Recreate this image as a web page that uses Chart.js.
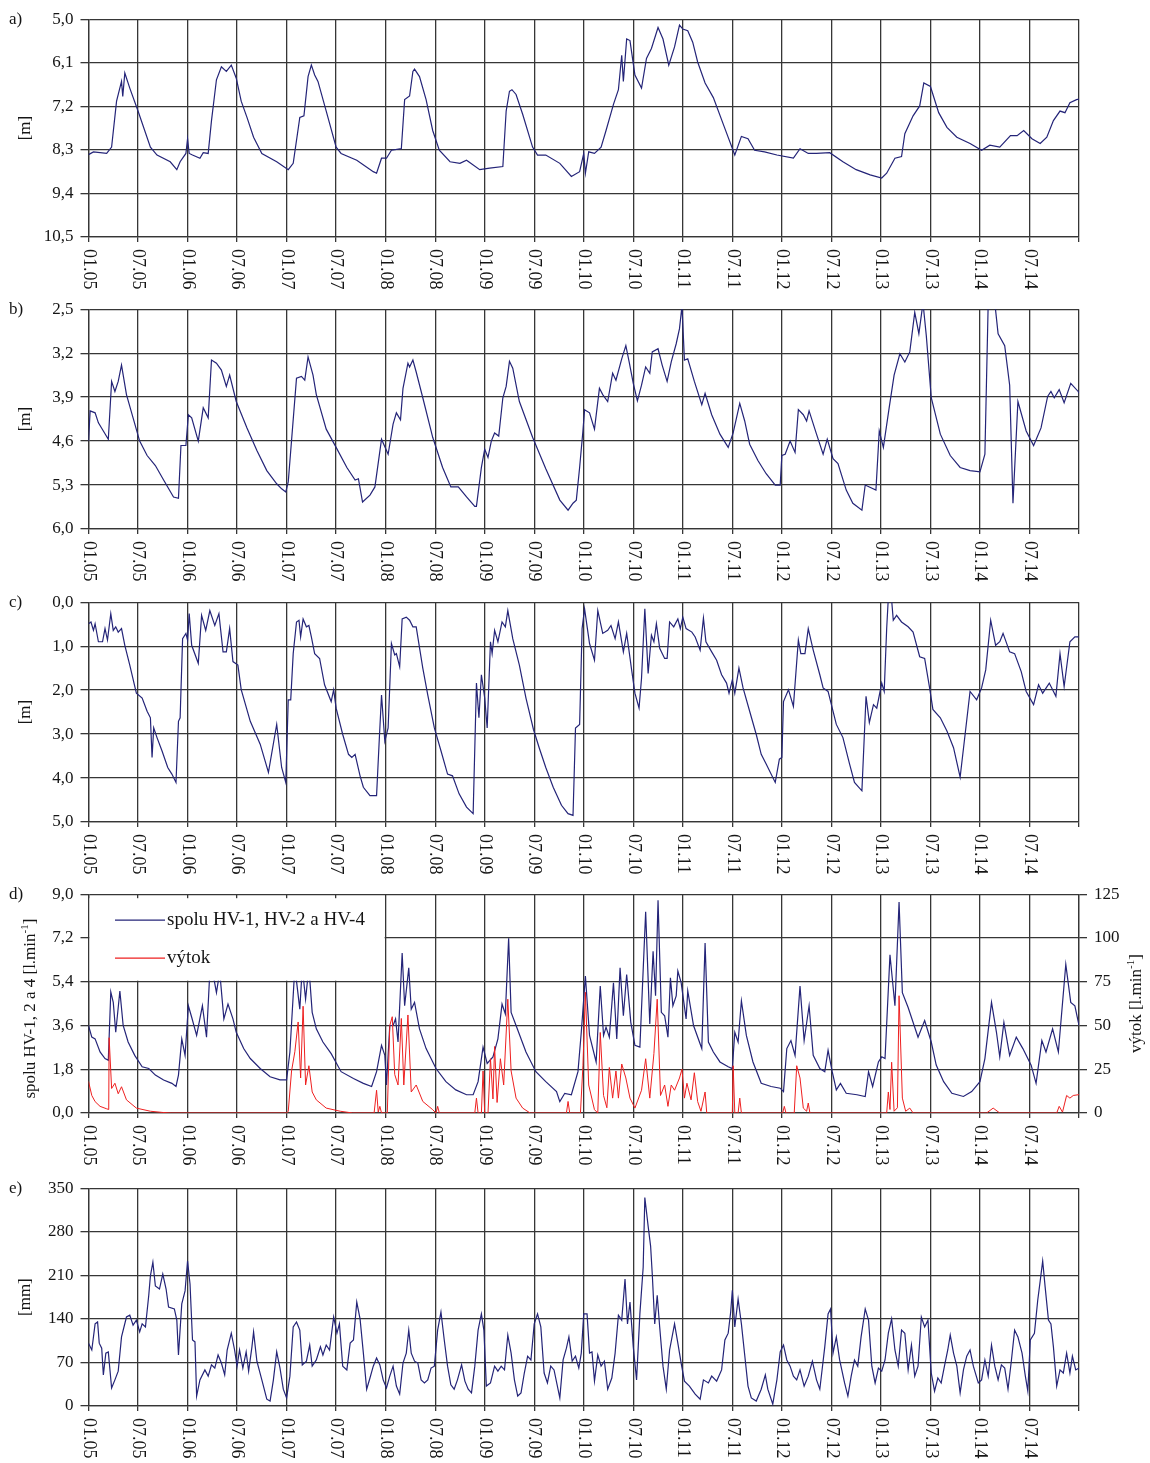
<!DOCTYPE html>
<html>
<head>
<meta charset="utf-8">
<script src="https://cdn.jsdelivr.net/npm/chart.js@4.4.1/dist/chart.umd.min.js"></script>
<style>
  html, body { margin: 0; padding: 0; background: #fff; }
  #wrap { position: relative; width: 1150px; height: 1463px; overflow: hidden; }
  #wrap canvas { position: absolute; left: 0; }
</style>
</head>
<body>
<div id="wrap"></div>
<script>
// x = months since January 2005
const halfYearLabels = ['01.05', '07.05', '01.06', '07.06', '01.07', '07.07', '01.08', '07.08', '01.09', '07.09',
                        '01.10', '07.10', '01.11', '07.11', '01.12', '07.12', '01.13', '07.13', '01.14', '07.14'];

const levelTicksA = [5.0, 6.1, 7.2, 8.3, 9.4, 10.5];
const levelTicksB = [2.5, 3.2, 3.9, 4.6, 5.3, 6.0];
const levelTicksC = [0, 1, 2, 3, 4, 5];
const yieldTicks = [0, 1.8, 3.6, 5.4, 7.2, 9.0];
const outflowTicks = [0, 25, 50, 75, 100, 125];
const precipTicks = [0, 70, 140, 210, 280, 350];

const seriesNames = ['spolu HV-1, HV-2 a HV-4', 'výtok'];

// panel a - hladina [m]
const levelA = [[0,8.42],[0.6,8.35],[2.2,8.39],[2.8,8.23],[3.4,7.07],[4.0,6.57],[4.15,6.95],[4.4,6.36],[5.0,6.74],[6.0,7.32],[7.5,8.23],[8.3,8.43],[9.9,8.6],[10.7,8.8],[11.1,8.6],[11.8,8.39],[12.0,8.02],[12.2,8.39],[12.6,8.43],[13.5,8.51],[13.9,8.37],[14.5,8.39],[14.9,7.56],[15.5,6.53],[16.1,6.2],[16.7,6.32],[17.3,6.16],[17.9,6.49],[18.5,7.07],[19.2,7.48],[20.0,7.98],[21.0,8.39],[22.8,8.6],[24.2,8.8],[24.8,8.64],[25.6,7.48],[26.1,7.44],[26.6,6.45],[27.0,6.16],[27.4,6.41],[27.8,6.57],[28.8,7.32],[30.0,8.23],[30.6,8.39],[32.5,8.56],[34.5,8.85],[34.9,8.89],[35.5,8.51],[36.1,8.51],[36.7,8.31],[37.9,8.27],[38.3,7.03],[38.9,6.94],[39.3,6.32],[39.5,6.26],[40.1,6.45],[40.9,7.03],[41.7,7.81],[42.5,8.31],[43.8,8.6],[45.0,8.64],[45.8,8.56],[47.4,8.8],[48.6,8.76],[50.2,8.72],[50.6,7.32],[51.0,6.82],[51.3,6.78],[51.8,6.9],[52.6,7.4],[53.8,8.23],[54.4,8.43],[55.4,8.43],[57.1,8.64],[58.5,8.97],[59.5,8.85],[60.0,8.39],[60.2,8.89],[60.6,8.35],[61.3,8.39],[62.1,8.23],[62.7,7.81],[63.6,7.15],[64.2,6.78],[64.6,5.91],[64.8,6.57],[65.2,5.5],[65.6,5.54],[66.2,6.41],[67.0,6.74],[67.6,5.99],[68.2,5.74],[69.0,5.21],[69.6,5.5],[70.3,6.16],[71.0,5.7],[71.6,5.15],[72.0,5.25],[72.6,5.29],[73.2,5.58],[73.8,6.08],[74.7,6.61],[75.7,6.98],[76.9,7.65],[78.3,8.43],[79.1,7.96],[79.9,8.02],[80.7,8.31],[81.9,8.35],[83.4,8.43],[85.4,8.51],[86.2,8.27],[87.2,8.39],[88.2,8.39],[89.8,8.37],[91.4,8.6],[93.0,8.8],[94.7,8.93],[96.1,9.01],[96.7,8.89],[97.7,8.51],[98.5,8.47],[98.9,7.89],[99.9,7.44],[100.7,7.19],[101.2,6.61],[102.0,6.7],[103.0,7.36],[104.0,7.73],[105.2,7.98],[106.8,8.14],[108.2,8.31],[109.2,8.18],[110.4,8.23],[111.7,7.94],[112.5,7.94],[113.3,7.81],[114.3,8.02],[115.3,8.14],[116.1,7.98],[116.9,7.56],[117.7,7.32],[118.3,7.36],[118.9,7.11],[119.7,7.03],[120,7.02]];

// panel b - hladina [m]
const levelB = [[0,4.6],[0.2,4.12],[0.8,4.15],[1.2,4.31],[1.8,4.44],[2.4,4.57],[2.8,3.65],[3.2,3.81],[3.6,3.65],[4.0,3.39],[4.6,3.86],[5.4,4.23],[6.2,4.6],[7.1,4.83],[8.1,4.99],[9.1,5.22],[10.3,5.49],[10.9,5.51],[11.2,4.67],[11.8,4.67],[12.1,4.18],[12.5,4.23],[13.3,4.6],[13.9,4.07],[14.5,4.23],[14.9,3.31],[15.5,3.36],[16.1,3.47],[16.7,3.73],[17.1,3.55],[17.9,3.97],[19.2,4.39],[20.4,4.75],[21.6,5.07],[22.8,5.28],[23.4,5.36],[23.9,5.41],[24.2,5.25],[25.2,3.6],[25.8,3.57],[26.2,3.63],[26.6,3.26],[27.2,3.55],[27.6,3.86],[28.8,4.41],[30.0,4.7],[31.3,5.02],[32.3,5.22],[32.7,5.2],[33.2,5.57],[34.1,5.46],[34.7,5.33],[35.5,4.57],[36.3,4.81],[36.9,4.33],[37.3,4.15],[37.8,4.26],[38.1,3.76],[38.7,3.36],[38.9,3.42],[39.3,3.31],[39.7,3.5],[40.5,3.91],[41.7,4.54],[42.9,5.02],[43.9,5.33],[44.8,5.33],[45.8,5.49],[46.8,5.64],[47.0,5.64],[47.6,5.02],[48.0,4.73],[48.4,4.86],[48.8,4.6],[49.2,4.47],[49.7,4.52],[50.2,3.91],[50.6,3.73],[51.0,3.33],[51.4,3.44],[52.2,3.97],[53.8,4.54],[55.4,5.04],[57.1,5.54],[58.1,5.7],[58.7,5.59],[59.1,5.54],[59.5,5.02],[59.9,4.44],[60.1,4.1],[60.7,4.15],[61.3,4.41],[61.9,3.76],[62.3,3.86],[62.9,3.97],[63.5,3.52],[63.9,3.63],[64.6,3.29],[65.1,3.08],[65.5,3.34],[66.0,3.68],[66.5,3.96],[67.0,3.71],[67.5,3.42],[68.0,3.52],[68.3,3.18],[69.0,3.13],[69.5,3.39],[70.1,3.65],[70.6,3.34],[71.2,3.05],[71.6,2.81],[71.9,2.45],[72.2,3.31],[72.6,3.29],[73.4,3.65],[74.3,4.02],[74.7,3.84],[75.5,4.18],[76.5,4.49],[77.5,4.7],[78.1,4.47],[78.9,4.0],[79.5,4.28],[80.1,4.65],[81.1,4.91],[82.1,5.12],[83.2,5.3],[83.8,5.3],[84.0,4.83],[84.4,4.81],[85.0,4.6],[85.6,4.78],[86.0,4.1],[86.6,4.18],[87.0,4.28],[87.3,4.12],[88.2,4.49],[89.0,4.81],[89.5,4.57],[90.2,4.88],[90.8,4.96],[91.8,5.38],[92.6,5.59],[93.7,5.7],[94.1,5.3],[94.6,5.33],[95.4,5.38],[95.8,4.44],[96.3,4.7],[97.0,4.07],[97.6,3.55],[98.3,3.21],[98.9,3.34],[99.5,3.18],[100.1,2.55],[100.6,2.89],[101.1,2.4],[101.5,2.92],[102.1,3.91],[103.2,4.49],[104.4,4.83],[105.6,5.02],[106.8,5.07],[108.0,5.09],[108.6,4.81],[109.0,2.4],[109.4,2.2],[109.8,2.4],[110.2,2.89],[111.0,3.08],[111.6,3.71],[112.0,5.59],[112.6,3.97],[113.6,4.44],[114.5,4.67],[115.4,4.39],[116.2,3.89],[116.6,3.81],[117.0,3.91],[117.6,3.78],[118.2,3.99],[119.0,3.68],[119.9,3.81],[120,3.84]];

// panel c - hladina [m]
const levelC = [[0,0.49],[0.3,0.45],[0.6,0.64],[0.8,0.49],[1.2,0.9],[1.7,0.9],[2.0,0.6],[2.3,0.86],[2.7,0.26],[3.0,0.64],[3.3,0.56],[3.6,0.68],[4.0,0.6],[4.4,0.98],[5.0,1.43],[5.8,2.07],[6.5,2.18],[7.1,2.48],[7.5,2.63],[7.7,3.53],[7.9,2.86],[8.3,3.08],[8.9,3.38],[9.6,3.76],[10.1,3.91],[10.6,4.1],[10.9,2.71],[11.1,2.63],[11.4,0.83],[11.8,0.71],[12.0,0.86],[12.2,0.26],[12.5,0.98],[13.3,1.39],[13.7,0.3],[14.2,0.64],[14.7,0.19],[15.3,0.53],[15.8,0.26],[16.3,1.13],[16.7,1.13],[17.1,0.6],[17.5,1.35],[18.1,1.43],[18.5,1.99],[19.6,2.71],[20.8,3.23],[21.8,3.87],[22.8,2.78],[23.4,3.76],[23.9,4.1],[24.2,2.22],[24.5,2.22],[24.8,1.17],[25.2,0.45],[25.5,0.41],[25.7,0.79],[26.0,0.38],[26.4,0.56],[26.7,0.53],[27.0,0.79],[27.4,1.17],[28.0,1.28],[28.6,1.88],[29.4,2.26],[29.7,1.99],[30.0,2.41],[30.8,3.01],[31.5,3.46],[31.9,3.53],[32.3,3.46],[32.9,3.95],[33.3,4.21],[34.1,4.4],[34.9,4.4],[35.2,3.23],[35.5,2.11],[35.9,3.16],[36.3,2.86],[36.7,0.94],[37.1,1.2],[37.3,1.17],[37.7,1.47],[38.0,0.38],[38.5,0.34],[38.9,0.41],[39.3,0.56],[39.7,0.56],[40.5,1.5],[41.1,2.11],[41.9,2.86],[42.7,3.38],[43.5,3.91],[44.1,3.95],[44.9,4.36],[45.8,4.66],[46.6,4.81],[47.0,1.84],[47.3,2.63],[47.6,1.65],[48.0,2.18],[48.3,2.86],[48.7,0.9],[48.9,1.17],[49.2,0.64],[49.6,0.9],[50.1,0.45],[50.5,0.56],[50.8,0.19],[51.4,0.83],[52.2,1.43],[53.0,2.18],[53.9,2.89],[54.6,3.31],[55.4,3.76],[56.3,4.21],[57.3,4.62],[58.1,4.81],[58.7,4.85],[59.0,2.86],[59.5,2.78],[59.8,0.6],[60.1,0.15],[60.7,0.94],[61.3,1.32],[61.7,0.19],[62.3,0.71],[62.9,0.64],[63.3,0.53],[63.8,0.83],[64.2,0.45],[64.8,1.13],[65.2,0.71],[65.8,1.54],[66.2,2.07],[66.7,2.41],[67.0,1.73],[67.4,0.15],[67.8,1.62],[68.2,0.75],[68.5,0.9],[68.8,0.49],[69.2,1.05],[69.8,1.28],[70.1,1.28],[70.4,0.45],[70.9,0.56],[71.4,0.38],[71.7,0.6],[72.0,0.34],[72.4,0.6],[73.1,0.68],[73.5,0.79],[74.1,1.09],[74.5,0.36],[74.8,0.9],[75.5,1.13],[76.1,1.32],[76.7,1.65],[77.3,1.84],[77.6,2.07],[78.0,1.77],[78.3,2.07],[78.8,1.5],[79.3,1.95],[80.1,2.48],[80.9,3.01],[81.5,3.46],[82.1,3.68],[83.2,4.1],[83.7,3.57],[84.0,3.53],[84.2,2.26],[84.8,1.99],[85.4,2.37],[86.0,0.86],[86.3,1.17],[86.8,1.17],[87.2,0.6],[87.8,1.09],[88.6,1.65],[89.0,1.95],[89.6,2.03],[90.6,2.78],[91.4,3.08],[92.2,3.68],[92.8,4.1],[93.7,4.29],[94.2,2.14],[94.6,2.74],[95.1,2.33],[95.5,2.41],[96.1,1.84],[96.4,2.03],[96.7,0.6],[96.9,-0.1],[97.3,-0.05],[97.5,0.41],[97.9,0.3],[98.5,0.45],[99.3,0.56],[99.9,0.68],[100.7,1.24],[101.3,1.28],[101.9,1.95],[102.3,2.44],[103.2,2.63],[104.0,2.93],[104.8,3.31],[105.6,3.98],[106.2,3.01],[106.8,2.03],[107.6,2.22],[108.2,1.95],[108.7,1.54],[109.3,0.41],[109.9,0.98],[110.4,0.9],[110.8,0.71],[111.6,1.13],[112.2,1.17],[113.0,1.58],[113.6,2.03],[114.5,2.33],[115.1,1.88],[115.6,2.07],[116.4,1.84],[117.2,2.14],[117.7,1.17],[118.2,1.92],[118.9,0.9],[119.5,0.79],[120,0.79]];

// panel d - spolu HV-1, 2 a 4 [l/min]
const yieldSum = [[0,3.6],[0.4,3.12],[0.8,3.05],[1.4,2.51],[2.0,2.24],[2.4,2.17],[2.7,4.98],[3.0,4.55],[3.3,3.32],[3.8,5.02],[4.2,3.6],[4.8,2.92],[5.6,2.37],[6.5,1.9],[7.3,1.83],[8.1,1.56],[9.1,1.36],[10.1,1.22],[10.6,1.09],[10.9,1.56],[11.3,3.05],[11.7,2.37],[12.1,4.41],[12.5,3.94],[13.1,3.19],[13.8,4.41],[14.3,3.12],[14.7,5.8],[15.1,5.7],[15.5,4.95],[15.9,5.8],[16.4,3.87],[16.9,4.48],[17.5,3.87],[17.9,3.32],[18.8,2.65],[19.6,2.24],[20.8,1.83],[22.0,1.49],[23.2,1.36],[24.0,1.36],[24.4,2.51],[25.0,6.0],[25.6,4.27],[25.9,6.0],[26.3,4.68],[26.7,6.0],[27.1,4.14],[27.6,3.46],[28.4,2.92],[29.4,2.44],[30.6,1.7],[32.1,1.42],[33.3,1.22],[34.3,1.09],[34.9,1.7],[35.5,2.78],[35.9,2.37],[36.1,1.15],[36.5,3.6],[36.9,3.6],[37.2,3.87],[37.5,2.92],[38.0,6.58],[38.3,4.41],[38.8,5.97],[39.1,4.27],[39.5,4.55],[40.1,3.46],[40.9,2.65],[42.1,1.83],[43.3,1.29],[44.5,0.95],[45.8,0.75],[46.6,0.75],[47.2,1.29],[47.8,2.71],[48.3,2.04],[49.0,2.31],[49.6,3.05],[50.1,4.48],[50.5,4.07],[50.9,7.19],[51.2,4.14],[51.8,3.6],[53.0,2.51],[54.2,1.7],[55.4,1.29],[56.7,0.88],[57.1,0.47],[57.7,0.81],[58.5,0.75],[59.3,1.7],[59.7,3.32],[60.2,5.63],[60.7,3.19],[61.5,2.1],[62.0,5.22],[62.4,3.19],[62.7,3.53],[63.1,3.12],[63.6,5.36],[64.0,3.05],[64.4,5.97],[64.8,4.0],[65.2,5.7],[65.7,3.73],[66.2,2.78],[66.8,2.71],[67.5,8.28],[68.0,3.66],[68.4,6.65],[68.7,4.82],[69.0,8.75],[69.4,4.14],[69.8,4.0],[70.2,3.12],[70.5,5.56],[70.8,4.41],[71.2,4.82],[71.4,5.84],[71.8,5.36],[72.4,3.87],[72.6,5.02],[73.3,3.6],[74.3,2.65],[74.7,6.99],[75.1,2.92],[75.7,2.51],[76.5,2.1],[77.5,1.9],[78.0,1.83],[78.3,3.32],[78.7,2.92],[79.1,4.61],[79.7,3.19],[80.5,2.1],[81.5,1.22],[82.7,1.09],[83.8,1.02],[84.2,0.88],[84.6,2.65],[85.1,2.98],[85.6,2.37],[86.2,5.22],[86.7,2.98],[87.3,4.41],[87.8,2.37],[88.6,1.83],[89.2,1.7],[89.6,2.58],[90.1,1.7],[90.6,0.95],[91.1,1.22],[91.8,0.81],[93.1,0.75],[94.1,0.68],[94.5,1.7],[95.0,1.09],[95.7,2.1],[96.1,2.31],[96.5,2.24],[97.1,6.51],[97.7,4.41],[98.2,8.68],[98.6,4.95],[99.3,4.34],[100.5,3.12],[101.3,3.8],[102.1,2.92],[102.7,1.97],[103.6,1.29],[104.6,0.81],[106.0,0.68],[107.0,0.88],[108.0,1.29],[108.6,2.24],[109.4,4.55],[110.0,3.32],[110.4,2.31],[110.9,3.73],[111.6,2.37],[112.4,3.12],[113.2,2.65],[114.2,1.97],[114.8,1.22],[115.5,2.98],[116.0,2.51],[116.8,3.46],[117.5,2.51],[118.4,6.11],[119.0,4.55],[119.5,4.41],[120,3.6]];

// panel d - výtok [l/min], right axis
const outflow = [[0,18],[0.4,10],[0.8,6.5],[1.4,3.8],[2.2,2.4],[2.45,2],[2.5,43],[2.8,14],[3.2,17],[3.6,11],[4.0,15],[4.6,7.5],[5.8,2.8],[7.5,1],[9,0.3],[10,0],[24.0,0],[24.2,1],[24.6,24],[25.0,35],[25.4,52],[25.7,20],[26.0,61],[26.3,16],[26.7,27],[27.1,12],[27.6,7.5],[28.8,2.8],[30.5,1],[32,0],[34.6,0],[34.9,13],[35.1,0.5],[35.3,3.8],[35.5,0],[36.2,0],[36.5,50],[36.8,55],[37.1,22],[37.5,16],[37.9,54],[38.2,16],[38.7,56],[39.1,12],[39.7,16],[40.5,6.6],[41.7,1.9],[42.1,0],[42.3,3.8],[42.5,0],[46.8,0],[47.0,8.5],[47.2,0],[47.6,0],[47.8,24],[48.0,0],[48.4,0],[48.7,31],[49.0,8],[49.2,38],[49.5,6],[49.9,31],[50.3,16],[50.8,65],[51.2,24],[51.8,8.5],[52.6,2.8],[53.5,0],[57.9,0],[58.1,6.6],[58.3,0],[59.6,0],[59.9,27],[60.2,69],[60.6,16],[61.3,1.9],[61.7,0],[62.0,46],[62.4,10],[62.8,3],[63.1,26],[63.5,8.5],[63.9,24],[64.2,8.5],[64.6,28],[65.1,20],[65.6,8.5],[66.2,2.8],[67.0,13],[67.5,31],[68.0,8.5],[68.5,34],[68.9,65],[69.3,10],[69.8,16],[70.2,3.8],[70.6,16],[71.0,13],[71.6,20],[71.9,25],[72.2,8.5],[72.5,17],[73.0,7.5],[73.4,23],[73.8,6.5],[74.2,1],[74.7,12],[74.9,0],[78.0,0],[78.1,27],[78.3,0],[78.7,0],[78.9,8.5],[79.1,0],[84.1,0],[84.3,3.8],[84.5,0],[85.5,0],[85.8,27],[86.2,20],[86.6,2.8],[87.0,1],[87.2,5.7],[87.4,0],[96.7,0],[96.9,12],[97.1,2],[97.3,29],[97.6,1],[98.0,3],[98.2,67],[98.6,8.5],[99.0,1],[99.5,2.8],[99.9,0],[108.8,0],[109.6,2.8],[110.4,0],[117.3,0],[117.6,3.8],[118.0,0.5],[118.5,10],[118.9,8.5],[119.3,10],[120,10.5]];

// panel e - zrážky [mm]
const precip = [[0,101],[0.4,90],[0.8,132],[1.1,135],[1.3,101],[1.6,93],[1.8,50],[2.1,85],[2.4,87],[2.8,29],[3.2,42],[3.6,56],[4.0,111],[4.6,143],[5.0,146],[5.4,130],[5.8,138],[6.2,119],[6.5,132],[6.9,127],[7.3,178],[7.5,209],[7.8,231],[8.1,193],[8.6,188],[9.0,212],[9.4,188],[9.7,159],[10.4,156],[10.7,138],[10.9,82],[11.3,164],[11.7,185],[12.0,233],[12.3,196],[12.6,106],[12.9,103],[13.1,16],[13.5,42],[14.1,58],[14.5,48],[14.9,66],[15.3,61],[15.7,82],[16.1,69],[16.5,50],[16.8,90],[17.3,117],[17.7,90],[18.0,64],[18.3,90],[18.7,61],[19.1,87],[19.4,56],[19.8,95],[20.0,119],[20.4,72],[21.0,42],[21.6,11],[22.0,8],[22.4,42],[22.8,87],[23.2,61],[23.6,27],[24.0,13],[24.4,48],[24.8,127],[25.2,135],[25.6,122],[25.9,66],[26.4,72],[26.8,98],[27.1,64],[27.6,74],[28.1,95],[28.4,82],[28.8,98],[29.2,90],[29.7,143],[30.1,117],[30.4,132],[30.8,64],[31.3,58],[31.7,101],[32.1,106],[32.5,167],[32.9,140],[33.3,85],[33.7,27],[34.1,45],[34.5,64],[34.9,77],[35.3,66],[35.7,42],[36.1,29],[36.5,48],[36.9,64],[37.3,32],[37.7,19],[38.1,69],[38.5,85],[38.8,122],[39.1,85],[39.5,72],[39.9,69],[40.3,42],[40.7,37],[41.1,42],[41.5,61],[41.9,64],[42.3,122],[42.7,151],[43.1,106],[43.5,64],[43.9,34],[44.3,27],[44.7,42],[45.2,66],[45.6,40],[46.0,27],[46.4,21],[46.8,64],[47.2,122],[47.6,148],[47.9,122],[48.2,32],[48.7,37],[49.2,64],[49.6,56],[50.0,64],[50.4,58],[50.8,114],[51.2,85],[51.6,42],[52.0,16],[52.4,21],[52.8,53],[53.2,80],[53.6,74],[54.0,132],[54.4,148],[54.8,127],[55.2,53],[55.6,37],[56.0,64],[56.4,58],[57.1,13],[57.5,74],[57.9,93],[58.2,111],[58.6,72],[59.0,80],[59.4,61],[59.7,85],[60.0,148],[60.4,148],[60.7,85],[61.0,87],[61.3,40],[61.7,82],[62.1,64],[62.5,72],[62.9,27],[63.4,45],[63.8,85],[64.2,146],[64.6,138],[65.0,204],[65.3,132],[65.6,167],[66.0,95],[66.4,42],[66.8,148],[67.2,223],[67.4,335],[67.8,289],[68.1,257],[68.3,212],[68.6,132],[68.9,178],[69.2,127],[69.6,64],[70.0,27],[70.4,90],[71.0,132],[71.4,101],[71.8,69],[72.2,40],[72.8,32],[73.5,19],[74.1,11],[74.5,42],[75.1,37],[75.5,48],[76.1,40],[76.7,58],[77.1,106],[77.5,117],[77.8,151],[78.0,186],[78.3,127],[78.7,172],[79.1,132],[79.5,82],[79.9,32],[80.3,13],[80.9,8],[81.5,27],[82.0,50],[82.3,27],[82.9,3],[83.4,42],[83.8,87],[84.2,98],[84.6,74],[85.0,64],[85.4,48],[85.8,42],[86.2,58],[86.7,32],[87.2,48],[87.7,72],[88.2,42],[88.6,27],[89.2,95],[89.6,148],[89.9,156],[90.2,85],[90.6,111],[91.0,74],[91.6,37],[92.0,16],[92.4,48],[92.8,74],[93.2,64],[93.6,111],[94.1,156],[94.5,138],[94.9,64],[95.3,37],[95.7,61],[96.1,56],[96.5,74],[96.9,117],[97.3,140],[97.7,90],[98.1,64],[98.5,122],[98.9,117],[99.3,58],[99.7,98],[100.1,48],[100.5,64],[100.9,143],[101.3,127],[101.7,138],[102.1,53],[102.5,24],[102.9,45],[103.3,37],[103.7,64],[104.1,90],[104.4,114],[104.8,85],[105.2,64],[105.6,21],[106.0,58],[106.4,80],[106.8,90],[107.2,64],[107.8,37],[108.2,42],[108.6,74],[109.0,48],[109.4,98],[109.8,64],[110.2,42],[110.6,66],[111.0,61],[111.4,27],[111.8,72],[112.2,122],[112.6,111],[113.1,85],[113.5,48],[113.8,24],[114.1,106],[114.6,117],[115.0,170],[115.3,201],[115.6,233],[115.9,191],[116.3,138],[116.6,132],[116.9,95],[117.3,32],[117.7,58],[118.1,53],[118.5,85],[118.9,53],[119.2,80],[119.6,58],[120,61]];

const FONT = '"Liberation Serif", "Times New Roman", serif';
const INK = '#151515';
const GRID = '#363636';
const NAVY = 'rgb(36, 36, 120)';
const RED = 'rgb(238, 32, 32)';

const PLOT_LEFT = 88.5;
const PLOT_RIGHT = 1079;
const PAD_TOP = 15;
const X_AXIS_H = 62;

const comma = d => v => v.toFixed(d).replace('.', ',');

function series(points, color, width, axis) {
  return {
    data: points.map(p => ({ x: p[0], y: p[1] })),
    yAxisID: axis || 'y',
    borderColor: color,
    borderWidth: width,
    pointRadius: 0,
    tension: 0,
    fill: false
  };
}

function yScale(tickValues, reverse, fmt, position) {
  const right = position === 'right';
  return {
    type: 'linear',
    position: right ? 'right' : 'left',
    reverse: reverse,
    min: Math.min(...tickValues),
    max: Math.max(...tickValues),
    afterBuildTicks: s => { s.ticks = tickValues.map(v => ({ value: v })); },
    afterFit: s => { s.width = right ? 1150 - PLOT_RIGHT : PLOT_LEFT; },
    grid: { color: GRID, lineWidth: 1.3, tickLength: 8, tickColor: GRID, drawOnChartArea: !right },
    border: { color: GRID, width: 1.3 },
    ticks: { color: INK, padding: 7, font: { family: FONT, size: 17 }, callback: v => fmt(v) }
  };
}

const xScale = {
  type: 'linear',
  min: 0,
  max: 120,
  afterBuildTicks: s => { s.ticks = halfYearLabels.concat(['']).map((_, i) => ({ value: i * 6 })); },
  afterFit: s => { s.height = X_AXIS_H; },
  grid: { color: GRID, lineWidth: 1.3, tickLength: 5, tickColor: GRID },
  border: { color: GRID, width: 1.3 },
  ticks: { display: false }
};

// rotated axis title, reads bottom to top; optional superscript part
function drawTitle(ctx, x, y, main, sup, tail) {
  const big = '17px ' + FONT, small = '11px ' + FONT;
  ctx.save();
  ctx.translate(x, y);
  ctx.rotate(-Math.PI / 2);
  ctx.textAlign = 'left';
  ctx.textBaseline = 'middle';
  ctx.font = big;
  const w1 = ctx.measureText(main).width;
  const w3 = tail ? ctx.measureText(tail).width : 0;
  ctx.font = small;
  const w2 = sup ? ctx.measureText(sup).width : 0;
  let cx = -(w1 + w2 + w3) / 2;
  ctx.font = big;
  ctx.fillText(main, cx, 0);
  cx += w1;
  if (sup) {
    ctx.font = small;
    ctx.fillText(sup, cx, -6);
    cx += w2;
  }
  if (tail) {
    ctx.font = big;
    ctx.fillText(tail, cx, 0);
  }
  ctx.restore();
}

const decor = {
  id: 'decor',
  afterDatasetsDraw(chart, args, opts) {
    if (!opts.legend) return;
    const { ctx, chartArea: a, scales } = chart;
    const boxRight = scales.x.getPixelForValue(36) - 1;
    const boxBottom = scales.y.getPixelForValue(5.4) - 1;
    ctx.save();
    ctx.fillStyle = '#fff';
    ctx.fillRect(a.left + 1, a.top + 4, boxRight - a.left - 1, boxBottom - a.top - 4);
    const rows = [[seriesNames[0], NAVY, a.top + 26], [seriesNames[1], RED, a.top + 64]];
    ctx.font = '19px ' + FONT;
    ctx.textAlign = 'left';
    ctx.textBaseline = 'middle';
    rows.forEach(([name, color, y]) => {
      ctx.strokeStyle = color;
      ctx.lineWidth = 1.2;
      ctx.beginPath();
      ctx.moveTo(115, y);
      ctx.lineTo(165, y);
      ctx.stroke();
      ctx.fillStyle = INK;
      ctx.fillText(name, 167, y);
    });
    ctx.restore();
  },
  afterDraw(chart, args, opts) {
    const { ctx, chartArea: a, scales } = chart;
    ctx.save();
    ctx.fillStyle = INK;
    ctx.font = '17px ' + FONT;
    ctx.textAlign = 'left';
    ctx.textBaseline = 'middle';
    ctx.fillText(opts.letter, 9, a.top);

    // date labels, rotated clockwise
    ctx.font = '18px ' + FONT;
    halfYearLabels.forEach((lab, i) => {
      const x = scales.x.getPixelForValue(i * 6);
      ctx.save();
      ctx.translate(x, a.bottom + 12);
      ctx.rotate(Math.PI / 2);
      ctx.fillText(lab, 0, 0);
      ctx.restore();
    });

    const mid = (a.top + a.bottom) / 2;
    (opts.titles || []).forEach(t => drawTitle(ctx, t.x, mid + (t.dy || 0), t.main, t.sup, t.tail));
    ctx.restore();
  }
};

const panels = [
  { top: 17, bottom: 237, letter: 'a)',
    datasets: [series(levelA, NAVY, 1.2)],
    scales: { x: xScale, y: yScale(levelTicksA, true, comma(1)) },
    titles: [{ x: 26, main: '[m]' }] },
  { top: 307, bottom: 529, letter: 'b)',
    datasets: [series(levelB, NAVY, 1.2)],
    scales: { x: xScale, y: yScale(levelTicksB, true, comma(1)) },
    titles: [{ x: 26, main: '[m]' }] },
  { top: 600, bottom: 822, letter: 'c)',
    datasets: [series(levelC, NAVY, 1.2)],
    scales: { x: xScale, y: yScale(levelTicksC, true, comma(1)) },
    titles: [{ x: 26, main: '[m]' }] },
  { top: 892, bottom: 1113, letter: 'd)', legend: true,
    datasets: [series(outflow, RED, 1.0, 'y2'), series(yieldSum, NAVY, 1.2)],
    scales: { x: xScale, y: yScale(yieldTicks, false, comma(1)), y2: yScale(outflowTicks, false, v => String(v), 'right') },
    titles: [{ x: 31, dy: 5, main: 'spolu HV-1, 2 a 4 [l.min', sup: '-1', tail: ']' },
             { x: 1137, main: 'výtok [l.min', sup: '-1', tail: ']' }] },
  { top: 1186, bottom: 1406, letter: 'e)',
    datasets: [series(precip, NAVY, 1.2)],
    scales: { x: xScale, y: yScale(precipTicks, false, v => String(v)) },
    titles: [{ x: 26, main: '[mm]' }] }
];

const wrap = document.getElementById('wrap');
panels.forEach(p => {
  const canvas = document.createElement('canvas');
  const h = PAD_TOP + (p.bottom - p.top) + X_AXIS_H;
  canvas.width = 1150;
  canvas.height = h;
  canvas.style.top = (p.top - PAD_TOP) + 'px';
  canvas.style.width = '1150px';
  canvas.style.height = h + 'px';
  wrap.appendChild(canvas);

  new Chart(canvas.getContext('2d'), {
    type: 'line',
    data: { datasets: p.datasets },
    options: {
      responsive: false,
      animation: false,
      events: [],
      layout: { padding: { top: PAD_TOP, left: 0, bottom: 0, right: p.scales.y2 ? 0 : 1150 - PLOT_RIGHT } },
      scales: p.scales,
      plugins: {
        legend: { display: false },
        tooltip: { enabled: false },
        decor: { letter: p.letter, legend: !!p.legend, titles: p.titles }
      }
    },
    plugins: [decor]
  });
});
</script>
</body>
</html>
